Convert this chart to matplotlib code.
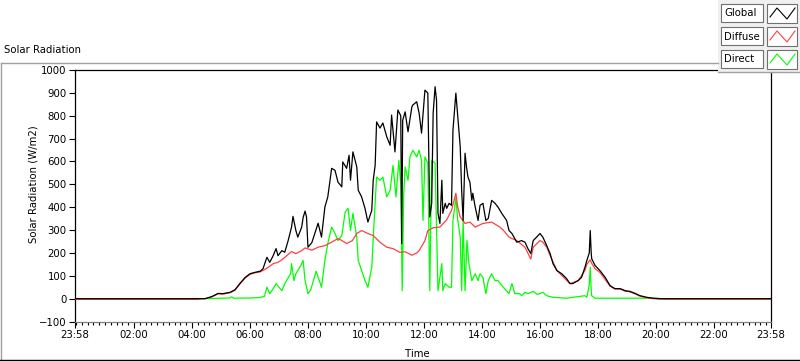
import matplotlib
matplotlib.use("Agg")
import matplotlib.pyplot as plt
from matplotlib.patches import Rectangle
from matplotlib.lines import Line2D
import numpy as np

plt.rcParams['font.family'] = ['DejaVu Sans']
FS = 7.3

# minutes after midnight (-2 = 23:58 of the day before), W/m2
global_t = [-2, 267, 281, 294, 304, 319, 329, 339, 350, 360, 370, 381, 387, 395, 401, 408, 414, 418,
            426, 432, 439, 446, 449, 455, 459, 467, 470, 474, 477, 480, 488, 495, 501, 508, 515, 521,
            529, 536, 542, 550, 552, 560, 565, 568, 573, 581, 584, 591, 598, 604, 612, 615, 619, 622,
            629, 635, 643, 650, 653, 660, 666, 672, 674, 676, 681, 687, 695, 697, 705, 710, 715, 722,
            728, 732, 736, 739, 743, 746, 749, 753, 757, 759, 764, 767, 772, 777, 780, 786, 790, 795,
            798, 801, 805, 808, 811, 815, 819, 821, 826, 832, 836, 842, 848, 853, 860, 867, 873, 881,
            891, 896, 902, 912, 922, 929, 935, 941, 946, 953, 960, 966, 974, 981, 987, 995, 1005,
            1015, 1022, 1028, 1039, 1046, 1053, 1057, 1062, 1064, 1066, 1067, 1074, 1084, 1095, 1105,
            1115, 1126, 1136, 1146, 1157, 1167, 1181, 1194, 1208, 1438]
global_v = [0, 0, 9, 23, 22, 28, 39, 66, 93, 109, 115, 120, 131, 181, 159, 188, 219, 188,
            210, 203, 254, 313, 360, 298, 269, 313, 355, 383, 357, 225, 245, 290, 330, 269, 401, 445,
            570, 561, 510, 489, 598, 570, 627, 518, 642, 576, 474, 445, 395, 335, 386, 518, 583, 773,
            746, 768, 708, 671, 803, 642, 825, 800, 241, 780, 817, 730, 839, 847, 861, 811, 724, 912,
            899, 357, 417, 811, 927, 868, 373, 329, 518, 373, 417, 395, 417, 408, 737, 899, 795, 664,
            474, 342, 636, 576, 532, 510, 430, 461, 401, 342, 408, 417, 342, 351, 430, 417, 401, 373,
            342, 298, 285, 247, 254, 247, 219, 197, 254, 269, 285, 269, 232, 197, 153, 123, 109,
            88, 66, 66, 79, 93, 137, 167, 200, 298, 200, 175, 145, 123, 93, 57,
            44, 44, 35, 32, 23, 13, 6, 2, 0, 0]

diffuse_t = [-2, 252, 258, 267, 281, 294, 304, 319, 329, 339, 350, 360, 370, 381, 395, 408, 418,
             426, 446, 455, 467, 474, 488, 501, 515, 529, 542, 550, 560, 572, 581, 591, 604, 615,
             629, 643, 656, 670, 681, 695, 705, 710, 722, 728, 739, 753, 767, 777, 786, 790, 795,
             805, 815, 826, 842, 860, 877, 884, 896, 912, 929, 941, 946, 960, 966, 974, 981, 995,
             1022, 1039, 1053, 1057, 1062, 1064, 1067, 1074, 1084, 1105, 1115, 1126, 1136, 1146,
             1157, 1167, 1181, 1194, 1215, 1438]
diffuse_v = [-3, -3, 0, 0, 8, 21, 20, 26, 37, 64, 90, 106, 113, 117, 133, 153, 159,
             170, 206, 197, 210, 222, 212, 225, 232, 247, 263, 254, 241, 254, 285, 298, 285, 276,
             247, 225, 219, 203, 205, 190, 200, 210, 254, 298, 310, 313, 345, 386, 461, 400, 357,
             329, 335, 313, 329, 335, 313, 300, 269, 254, 225, 173, 225, 254, 247, 225, 189, 123,
             66, 79, 123, 150, 165, 170, 155, 131, 115, 55, 42, 42, 33, 30,
             21, 11, 4, 0, -2, -2]

direct_t = [-2, 267, 300, 318, 322, 326, 360, 380, 390, 395, 401, 408, 414, 426, 432, 444, 446, 451,
            455, 463, 470, 474, 480, 486, 492, 497, 501, 505, 508, 515, 521, 529, 536, 542, 550, 557,
            563, 568, 573, 581, 584, 591, 598, 604, 612, 617, 622, 629, 635, 643, 650, 656, 662, 668,
            672, 675, 678, 681, 687, 691, 697, 705, 710, 715, 718, 722, 728, 732, 736, 743, 749, 757,
            759, 764, 772, 777, 780, 786, 790, 795, 798, 801, 805, 809, 813, 819, 826, 832, 836, 842,
            848, 853, 860, 867, 873, 884, 896, 902, 908, 918, 922, 929, 935, 946, 955, 966, 974, 987,
            1015, 1039, 1053, 1057, 1062, 1064, 1066, 1067, 1074, 1200, 1210, 1438]
direct_v = [0, 0, 2, 3, 8, 2, 3, 5, 10, 50, 22, 44, 66, 35, 66, 109, 153, 79,
            109, 137, 167, 79, 22, 40, 85, 120, 93, 70, 50, 167, 241, 313, 285, 254, 276, 379,
            395, 298, 373, 269, 167, 123, 79, 50, 137, 342, 532, 518, 532, 445, 474, 583, 445, 605,
            500, 35, 450, 576, 518, 620, 649, 620, 649, 605, 342, 620, 592, 35, 605, 592, 35, 153,
            35, 66, 50, 50, 342, 440, 342, 269, 35, 342, 35, 254, 153, 79, 109, 79, 109, 93,
            22, 79, 109, 79, 79, 50, 22, 66, 22, 22, 13, 28, 22, 32, 18, 28, 13, 6,
            2, 9, 13, 6, 60, 137, 40, 13, 2, 2, 0, 0]

W, H = 800, 361
fig = plt.figure(figsize=(W / 100, H / 100), dpi=100)

# plot area in pixels: x 75..771, y 70..322
x0, x1, y0, y1 = 75, 771, 70, 322
ax = fig.add_axes((x0 / W, 1 - y1 / H, (x1 - x0) / W, (y1 - y0) / H))

to_h = lambda t: np.asarray(t) / 60.0
ax.plot(to_h(direct_t), direct_v, color='#00ff00', lw=0.9, zorder=2)
ax.plot(to_h(diffuse_t), diffuse_v, color='#ff4040', lw=0.9, zorder=3)
ax.plot(to_h(global_t), global_v, color='black', lw=0.9, zorder=4)

ax.set_xlim(-2 / 60, 24 - 2 / 60)
ax.set_ylim(-102, 1000)
ax.set_yticks(np.arange(-100, 1001, 100))
xt = [-2 / 60] + list(range(2, 23, 2)) + [24 - 2 / 60]
ax.set_xticks(xt)
ax.set_xticklabels(['23:58'] + [f'{h:02d}:00' for h in range(2, 23, 2)] + ['23:58'])
ax.set_xticks(np.arange(0, 24, 0.2), minor=True)
ax.tick_params(axis='both', which='major', direction='out', length=4, width=0.8,
               labelsize=FS, colors='black', pad=2)
ax.tick_params(axis='x', which='minor', direction='out', length=2.5, width=0.8)
for s in ('top', 'left', 'right'):
    ax.spines[s].set_linewidth(0.9)
    ax.spines[s].set_color('black')
ax.spines['bottom'].set_color('#808080')
ax.spines['bottom'].set_linewidth(0.9)

fig.text(4 / W, 1 - 50 / H, 'Solar Radiation', fontsize=FS, ha='left', va='center')
fig.text(33 / W, 1 - 184 / H, 'Solar Radiation (W/m2)', fontsize=FS, rotation=90,
         ha='center', va='center')
fig.text(417 / W, 1 - 354 / H, 'Time', fontsize=FS, ha='center', va='center')

# overlay in pixel coordinates for panel frame and legend
ov = fig.add_axes((0, 0, 1, 1))
ov.set_xlim(0, W)
ov.set_ylim(H, 0)
ov.axis('off')
ov.patch.set_visible(False)

ov.add_line(Line2D([0.5, 718], [62.5, 62.5], color='#a0a0a0', lw=1))
ov.add_line(Line2D([0.5, 0.5], [62.5, 359.5], color='#a0a0a0', lw=1))
ov.add_line(Line2D([0, W], [359.5, 359.5], color='black', lw=1))

ov.add_patch(Rectangle((718, 0), 82, 72, facecolor='#f0f0f0', edgecolor='none'))
ov.add_line(Line2D([718, 799], [72, 72], color='#a0a0a0', lw=1))

names = ['Global', 'Diffuse', 'Direct']
colors = ['black', '#ff4040', '#00ff00']
rows = [4, 27, 50]
for name, c, ry in zip(names, colors, rows):
    ov.add_patch(Rectangle((721, ry), 42, 18, facecolor='white', edgecolor='#707070', lw=0.8))
    ov.text(724, ry + 9.5, name, fontsize=FS, ha='left', va='center')
    ov.add_patch(Rectangle((767, ry), 30, 19, facecolor='white', edgecolor='#707070', lw=0.8))
    zx = [770, 777, 787, 795]
    zy = [ry + 13, ry + 4, ry + 15, ry + 4]
    ov.add_line(Line2D(zx, zy, color=c, lw=0.8))

fig.savefig('out.png', dpi=100, facecolor='white')
